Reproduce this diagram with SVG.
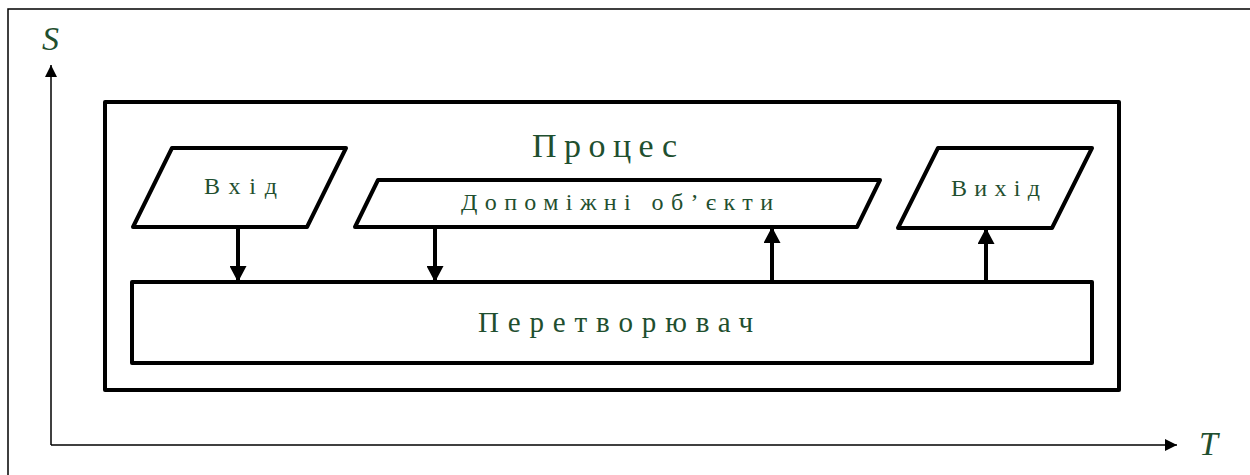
<svg xmlns="http://www.w3.org/2000/svg" width="1250" height="475" viewBox="0 0 1250 475">
  <style>
    .frame { fill: none; stroke: #000; stroke-width: 1.5; }
    .box { fill: #fff; stroke: #000; stroke-width: 4; stroke-linejoin: round; }
    .axis { fill: none; stroke: #000; stroke-width: 1.5; }
    .flow { fill: none; stroke: #000; stroke-width: 4; }
    text { font-family: 'Liberation Serif', Tinos, 'Times New Roman', 'DejaVu Serif', 'Noto Serif', serif; fill: #1f4f2f; }
    .axlbl { font-style: italic; font-size: 34px; }
  </style>
  <defs>
    <marker id="axhead" viewBox="0 0 12 12" refX="12" refY="6" markerWidth="12" markerHeight="12" markerUnits="userSpaceOnUse" orient="auto">
      <path d="M0,0 L12,6 L0,12 Z" fill="#000"/>
    </marker>
    <marker id="flowhead" viewBox="0 0 16 17" refX="16" refY="8.5" markerWidth="16" markerHeight="17" markerUnits="userSpaceOnUse" orient="auto">
      <path d="M0,0 L16,8.5 L0,17 Z" fill="#000"/>
    </marker>
  </defs>

  <rect width="1250" height="475" fill="#fff"/>
  <!-- page frame -->
  <rect class="frame" x="8" y="9" width="1260" height="480"/>

  <!-- coordinate axes -->
  <g id="axes">
    <line class="axis" x1="51" y1="445" x2="51" y2="65" marker-end="url(#axhead)"/>
    <line class="axis" x1="51" y1="445" x2="1177" y2="445" marker-end="url(#axhead)"/>
    <text class="axlbl" x="42" y="50">S</text>
    <text class="axlbl" x="1199" y="455">T</text>
  </g>

  <g id="process">
    <rect class="box" x="105" y="102" width="1014" height="288"/>
    <text x="532" y="157" font-size="34" textLength="145" lengthAdjust="spacing">Процес</text>
  </g>

  <g id="converter">
    <rect class="box" x="132" y="282" width="960" height="81"/>
    <text x="478" y="332" font-size="29" textLength="275" lengthAdjust="spacing">Перетворювач</text>
  </g>

  <g id="input">
    <polygon class="box" points="172,148 346,148 307,227 133,227"/>
    <text x="204" y="194" font-size="24" textLength="73" lengthAdjust="spacing">Вхід</text>
  </g>

  <g id="auxiliary">
    <polygon class="box" points="378,180 880,180 857,227 355,227"/>
    <text x="461" y="210" font-size="24" textLength="312" lengthAdjust="spacing">Допоміжні об’єкти</text>
  </g>

  <g id="output">
    <polygon class="box" points="938,148 1092,148 1052,228 898,228"/>
    <text x="951" y="196" font-size="24" textLength="89" lengthAdjust="spacing">Вихід</text>
  </g>

  <g id="connectors">
    <line class="flow" x1="238" y1="229" x2="238" y2="282" marker-end="url(#flowhead)"/>
    <line class="flow" x1="435" y1="229" x2="435" y2="282" marker-end="url(#flowhead)"/>
    <line class="flow" x1="772" y1="280" x2="772" y2="227" marker-end="url(#flowhead)"/>
    <line class="flow" x1="986" y1="280" x2="986" y2="228" marker-end="url(#flowhead)"/>
  </g>
</svg>
